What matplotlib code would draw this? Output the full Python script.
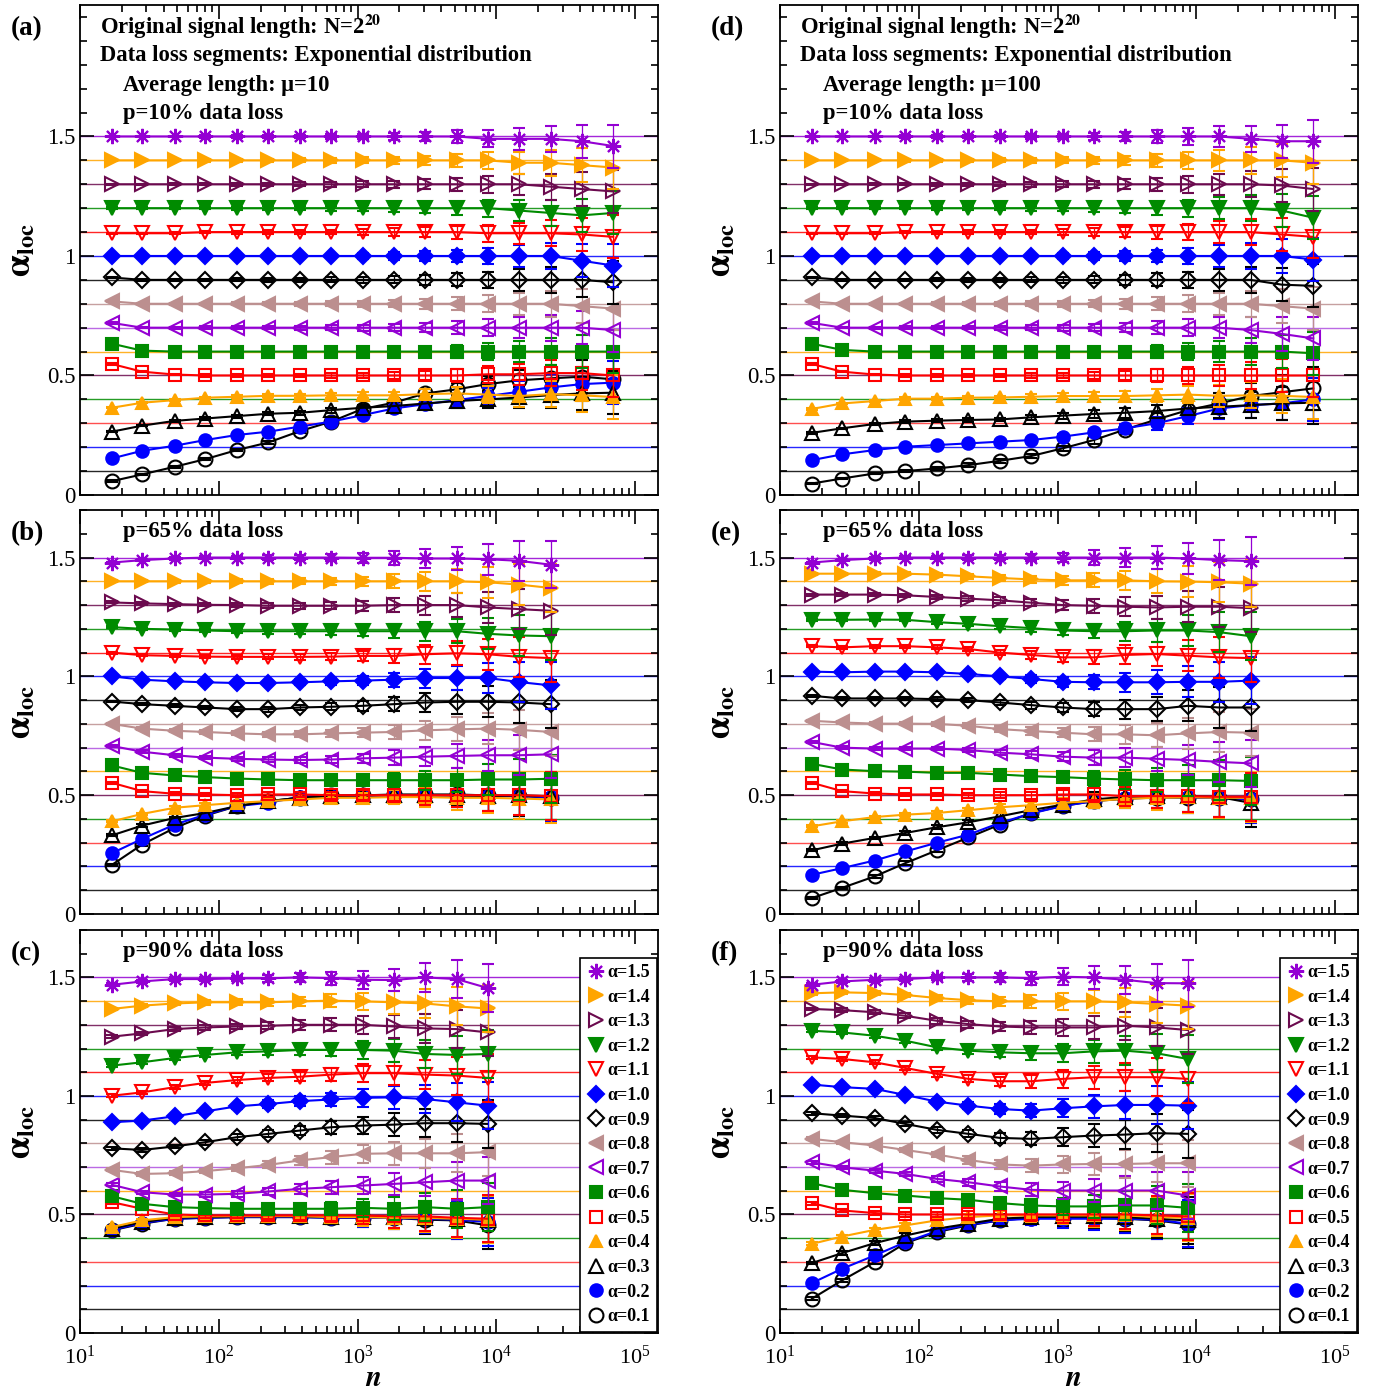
import numpy as np
import matplotlib
matplotlib.use("Agg")
import matplotlib.pyplot as plt
from matplotlib.lines import Line2D
from matplotlib.ticker import LogLocator, MultipleLocator, FixedLocator, FuncFormatter, NullFormatter

plt.rcParams['font.family'] = ['Liberation Serif', 'DejaVu Serif']
plt.rcParams['mathtext.fontset'] = 'stix'

# scale n of the plotted points (same for every panel, cut to the panel length)
n_all = [17, 28, 48, 80, 135, 228, 383, 645, 1085, 1825, 3070, 5160, 8680,
         14600, 24550, 41300, 69450]

alphas = [1.5, 1.4, 1.3, 1.2, 1.1, 1.0, 0.9, 0.8, 0.7, 0.6, 0.5, 0.4, 0.3, 0.2, 0.1]

# error bar half-widths per point
err_top = [0.003, 0.003, 0.004, 0.005, 0.006, 0.007, 0.008, 0.01, 0.012, 0.015,
           0.02, 0.027, 0.035, 0.045, 0.055, 0.07, 0.09]
err_mid = [0.004, 0.005, 0.006, 0.007, 0.008, 0.01, 0.012, 0.015, 0.02, 0.03,
           0.04, 0.05, 0.065, 0.085, 0.1]
err_bot = [0.006, 0.007, 0.008, 0.01, 0.012, 0.015, 0.02, 0.027, 0.037, 0.048,
           0.06, 0.08, 0.1]

# (a) mu=10, p=10%
vals_a = [
    [1.50, 1.50, 1.50, 1.50, 1.50, 1.50, 1.50, 1.50, 1.50, 1.50, 1.50, 1.50, 1.49, 1.49, 1.49, 1.48, 1.46],
    [1.40, 1.40, 1.40, 1.40, 1.40, 1.40, 1.40, 1.40, 1.40, 1.40, 1.40, 1.40, 1.40, 1.39, 1.39, 1.38, 1.37],
    [1.30, 1.30, 1.30, 1.30, 1.30, 1.30, 1.30, 1.30, 1.30, 1.30, 1.30, 1.30, 1.30, 1.30, 1.29, 1.28, 1.27],
    [1.20, 1.20, 1.20, 1.20, 1.20, 1.20, 1.20, 1.20, 1.20, 1.20, 1.20, 1.20, 1.20, 1.19, 1.18, 1.17, 1.18],
    [1.095, 1.095, 1.095, 1.10, 1.10, 1.10, 1.10, 1.10, 1.10, 1.10, 1.10, 1.10, 1.095, 1.095, 1.095, 1.09, 1.08],
    [1.00, 1.00, 1.00, 1.00, 1.00, 1.00, 1.00, 1.00, 1.00, 1.00, 1.00, 1.00, 1.00, 1.00, 1.00, 0.98, 0.96],
    [0.91, 0.90, 0.90, 0.90, 0.90, 0.90, 0.90, 0.90, 0.90, 0.90, 0.90, 0.90, 0.90, 0.90, 0.90, 0.90, 0.89],
    [0.81, 0.80, 0.80, 0.80, 0.80, 0.80, 0.80, 0.80, 0.80, 0.80, 0.80, 0.80, 0.80, 0.80, 0.80, 0.79, 0.78],
    [0.72, 0.70, 0.70, 0.70, 0.70, 0.70, 0.70, 0.70, 0.70, 0.70, 0.70, 0.70, 0.70, 0.70, 0.70, 0.70, 0.69],
    [0.633, 0.604, 0.60, 0.60, 0.60, 0.60, 0.60, 0.60, 0.60, 0.60, 0.60, 0.60, 0.60, 0.60, 0.60, 0.60, 0.60],
    [0.548, 0.516, 0.504, 0.50, 0.50, 0.50, 0.50, 0.50, 0.50, 0.50, 0.50, 0.50, 0.505, 0.505, 0.51, 0.51, 0.50],
    [0.365, 0.386, 0.397, 0.407, 0.411, 0.415, 0.415, 0.417, 0.417, 0.417, 0.422, 0.425, 0.42, 0.414, 0.422, 0.417, 0.41],
    [0.265, 0.29, 0.31, 0.32, 0.33, 0.34, 0.344, 0.355, 0.365, 0.372, 0.383, 0.393, 0.40, 0.408, 0.418, 0.425, 0.428],
    [0.153, 0.185, 0.206, 0.23, 0.251, 0.265, 0.286, 0.307, 0.334, 0.362, 0.38, 0.397, 0.414, 0.432, 0.45, 0.464, 0.47],
    [0.058, 0.086, 0.118, 0.15, 0.188, 0.22, 0.267, 0.307, 0.36, 0.386, 0.425, 0.442, 0.464, 0.48, 0.488, 0.495, 0.484],
]

# (d) mu=100, p=10%
vals_d = [
    [1.50, 1.50, 1.50, 1.50, 1.50, 1.50, 1.50, 1.50, 1.50, 1.50, 1.50, 1.50, 1.50, 1.50, 1.49, 1.48, 1.48],
    [1.40, 1.40, 1.40, 1.40, 1.40, 1.40, 1.40, 1.40, 1.40, 1.40, 1.40, 1.40, 1.40, 1.40, 1.40, 1.40, 1.39],
    [1.30, 1.30, 1.30, 1.30, 1.30, 1.30, 1.30, 1.30, 1.30, 1.30, 1.30, 1.30, 1.30, 1.30, 1.30, 1.295, 1.28],
    [1.20, 1.20, 1.20, 1.20, 1.20, 1.20, 1.20, 1.20, 1.20, 1.20, 1.20, 1.20, 1.20, 1.20, 1.20, 1.19, 1.16],
    [1.095, 1.095, 1.095, 1.10, 1.10, 1.10, 1.10, 1.10, 1.10, 1.10, 1.10, 1.10, 1.10, 1.10, 1.10, 1.09, 1.08],
    [1.00, 1.00, 1.00, 1.00, 1.00, 1.00, 1.00, 1.00, 1.00, 1.00, 1.00, 1.00, 1.00, 1.00, 1.00, 1.00, 0.985],
    [0.91, 0.90, 0.90, 0.90, 0.90, 0.90, 0.90, 0.90, 0.90, 0.90, 0.90, 0.90, 0.90, 0.90, 0.90, 0.88, 0.875],
    [0.81, 0.80, 0.80, 0.80, 0.80, 0.80, 0.80, 0.80, 0.80, 0.80, 0.80, 0.80, 0.80, 0.80, 0.80, 0.79, 0.78],
    [0.72, 0.70, 0.70, 0.70, 0.70, 0.70, 0.70, 0.70, 0.70, 0.70, 0.70, 0.70, 0.70, 0.70, 0.69, 0.674, 0.655],
    [0.633, 0.607, 0.60, 0.60, 0.60, 0.60, 0.60, 0.60, 0.60, 0.60, 0.60, 0.60, 0.60, 0.60, 0.60, 0.60, 0.593],
    [0.548, 0.516, 0.504, 0.50, 0.50, 0.50, 0.50, 0.50, 0.50, 0.50, 0.50, 0.50, 0.50, 0.50, 0.50, 0.50, 0.50],
    [0.36, 0.383, 0.393, 0.403, 0.403, 0.407, 0.408, 0.411, 0.414, 0.414, 0.414, 0.417, 0.42, 0.415, 0.417, 0.415, 0.41],
    [0.26, 0.279, 0.297, 0.307, 0.311, 0.314, 0.316, 0.325, 0.332, 0.339, 0.344, 0.351, 0.362, 0.369, 0.376, 0.383, 0.386],
    [0.146, 0.17, 0.188, 0.202, 0.209, 0.216, 0.223, 0.23, 0.244, 0.262, 0.279, 0.30, 0.33, 0.362, 0.376, 0.383, 0.40],
    [0.048, 0.069, 0.09, 0.10, 0.111, 0.125, 0.143, 0.163, 0.195, 0.23, 0.274, 0.316, 0.355, 0.383, 0.414, 0.43, 0.446],
]

# (b) mu=10, p=65%
vals_b = [
    [1.479, 1.489, 1.496, 1.50, 1.50, 1.50, 1.50, 1.50, 1.499, 1.499, 1.496, 1.496, 1.493, 1.486, 1.47],
    [1.40, 1.40, 1.40, 1.40, 1.40, 1.40, 1.40, 1.40, 1.40, 1.40, 1.40, 1.40, 1.396, 1.386, 1.372],
    [1.311, 1.307, 1.304, 1.301, 1.30, 1.297, 1.297, 1.297, 1.297, 1.30, 1.30, 1.30, 1.29, 1.283, 1.276],
    [1.207, 1.20, 1.197, 1.193, 1.19, 1.19, 1.19, 1.19, 1.19, 1.19, 1.19, 1.19, 1.179, 1.172, 1.169],
    [1.10, 1.089, 1.086, 1.083, 1.082, 1.082, 1.082, 1.083, 1.086, 1.086, 1.093, 1.097, 1.093, 1.082, 1.077],
    [1.00, 0.986, 0.979, 0.975, 0.972, 0.972, 0.975, 0.979, 0.982, 0.986, 0.993, 0.993, 0.993, 0.976, 0.962],
    [0.894, 0.883, 0.876, 0.869, 0.862, 0.862, 0.869, 0.872, 0.876, 0.883, 0.89, 0.893, 0.893, 0.89, 0.883],
    [0.80, 0.78, 0.771, 0.766, 0.76, 0.756, 0.756, 0.76, 0.763, 0.766, 0.773, 0.777, 0.78, 0.775, 0.766],
    [0.707, 0.683, 0.668, 0.658, 0.653, 0.65, 0.648, 0.65, 0.655, 0.658, 0.662, 0.665, 0.668, 0.668, 0.672],
    [0.625, 0.594, 0.583, 0.576, 0.57, 0.566, 0.563, 0.563, 0.563, 0.563, 0.563, 0.563, 0.566, 0.566, 0.569],
    [0.552, 0.517, 0.506, 0.503, 0.50, 0.503, 0.503, 0.50, 0.50, 0.50, 0.50, 0.50, 0.50, 0.50, 0.496],
    [0.39, 0.421, 0.447, 0.458, 0.468, 0.475, 0.482, 0.489, 0.489, 0.492, 0.492, 0.489, 0.489, 0.486, 0.482],
    [0.331, 0.372, 0.404, 0.425, 0.454, 0.475, 0.489, 0.496, 0.499, 0.50, 0.50, 0.499, 0.496, 0.499, 0.496],
    [0.256, 0.316, 0.376, 0.418, 0.454, 0.468, 0.493, 0.496, 0.496, 0.499, 0.499, 0.499, 0.496, 0.496, 0.492],
    [0.207, 0.292, 0.362, 0.414, 0.454, 0.475, 0.489, 0.499, 0.499, 0.503, 0.503, 0.503, 0.499, 0.496, 0.489],
]

# (e) mu=100, p=65%
vals_e = [
    [1.479, 1.489, 1.496, 1.50, 1.50, 1.50, 1.50, 1.50, 1.50, 1.50, 1.50, 1.50, 1.496, 1.489, 1.485],
    [1.432, 1.432, 1.432, 1.432, 1.428, 1.421, 1.414, 1.408, 1.404, 1.404, 1.404, 1.40, 1.399, 1.396, 1.39],
    [1.344, 1.344, 1.344, 1.341, 1.334, 1.327, 1.32, 1.31, 1.30, 1.297, 1.293, 1.29, 1.293, 1.293, 1.287],
    [1.238, 1.238, 1.239, 1.238, 1.228, 1.221, 1.211, 1.203, 1.193, 1.19, 1.19, 1.193, 1.193, 1.186, 1.169],
    [1.127, 1.122, 1.127, 1.127, 1.122, 1.115, 1.10, 1.09, 1.08, 1.08, 1.09, 1.094, 1.087, 1.08, 1.077],
    [1.02, 1.017, 1.02, 1.02, 1.017, 1.01, 1.00, 0.989, 0.977, 0.975, 0.975, 0.975, 0.977, 0.977, 0.982],
    [0.918, 0.907, 0.907, 0.907, 0.904, 0.90, 0.89, 0.879, 0.869, 0.862, 0.862, 0.862, 0.876, 0.869, 0.869],
    [0.813, 0.806, 0.801, 0.801, 0.80, 0.792, 0.778, 0.77, 0.763, 0.756, 0.756, 0.752, 0.76, 0.766, 0.763],
    [0.724, 0.70, 0.696, 0.696, 0.696, 0.69, 0.679, 0.672, 0.662, 0.658, 0.658, 0.653, 0.648, 0.64, 0.634],
    [0.632, 0.608, 0.601, 0.599, 0.594, 0.594, 0.587, 0.58, 0.576, 0.57, 0.566, 0.563, 0.563, 0.563, 0.56],
    [0.552, 0.517, 0.507, 0.503, 0.503, 0.50, 0.50, 0.50, 0.503, 0.503, 0.496, 0.496, 0.496, 0.493, 0.493],
    [0.369, 0.39, 0.408, 0.418, 0.425, 0.437, 0.449, 0.458, 0.468, 0.475, 0.485, 0.489, 0.492, 0.489, 0.489],
    [0.268, 0.296, 0.32, 0.341, 0.365, 0.386, 0.411, 0.437, 0.46, 0.482, 0.493, 0.496, 0.496, 0.492, 0.468],
    [0.165, 0.193, 0.225, 0.263, 0.30, 0.334, 0.383, 0.423, 0.454, 0.475, 0.489, 0.496, 0.492, 0.489, 0.482],
    [0.067, 0.11, 0.158, 0.214, 0.268, 0.322, 0.376, 0.425, 0.455, 0.475, 0.485, 0.49, 0.49, 0.49, 0.485],
]

# (c) mu=10, p=90%
vals_c = [
    [1.469, 1.483, 1.493, 1.493, 1.496, 1.496, 1.50, 1.497, 1.49, 1.489, 1.50, 1.493, 1.455],
    [1.367, 1.381, 1.39, 1.395, 1.395, 1.395, 1.399, 1.402, 1.399, 1.395, 1.39, 1.378, 1.369],
    [1.25, 1.264, 1.282, 1.289, 1.293, 1.296, 1.30, 1.30, 1.30, 1.293, 1.285, 1.282, 1.268],
    [1.128, 1.142, 1.16, 1.173, 1.184, 1.188, 1.194, 1.194, 1.194, 1.191, 1.177, 1.173, 1.177],
    [1.001, 1.015, 1.037, 1.055, 1.067, 1.076, 1.081, 1.09, 1.096, 1.096, 1.09, 1.086, 1.076],
    [0.889, 0.896, 0.914, 0.935, 0.956, 0.966, 0.978, 0.985, 0.992, 0.994, 0.987, 0.973, 0.959],
    [0.779, 0.772, 0.787, 0.805, 0.826, 0.84, 0.854, 0.868, 0.875, 0.879, 0.885, 0.885, 0.882],
    [0.688, 0.671, 0.674, 0.683, 0.695, 0.709, 0.728, 0.742, 0.756, 0.758, 0.758, 0.758, 0.763],
    [0.625, 0.594, 0.584, 0.584, 0.587, 0.597, 0.608, 0.615, 0.622, 0.629, 0.636, 0.643, 0.643],
    [0.577, 0.545, 0.531, 0.527, 0.524, 0.524, 0.524, 0.524, 0.528, 0.524, 0.531, 0.524, 0.531],
    [0.552, 0.524, 0.50, 0.496, 0.496, 0.496, 0.496, 0.496, 0.496, 0.492, 0.492, 0.486, 0.482],
    [0.447, 0.475, 0.489, 0.492, 0.493, 0.493, 0.493, 0.489, 0.489, 0.486, 0.486, 0.482, 0.478],
    [0.44, 0.468, 0.486, 0.489, 0.492, 0.492, 0.492, 0.489, 0.489, 0.489, 0.486, 0.482, 0.478],
    [0.435, 0.464, 0.482, 0.486, 0.489, 0.489, 0.489, 0.486, 0.486, 0.485, 0.482, 0.478, 0.468],
    [0.433, 0.461, 0.482, 0.486, 0.489, 0.489, 0.489, 0.486, 0.486, 0.485, 0.478, 0.475, 0.454],
]

# (f) mu=100, p=90%
vals_f = [
    [1.469, 1.483, 1.49, 1.493, 1.50, 1.50, 1.50, 1.497, 1.503, 1.50, 1.49, 1.476, 1.475],
    [1.433, 1.437, 1.434, 1.426, 1.413, 1.404, 1.399, 1.399, 1.399, 1.399, 1.395, 1.388, 1.381],
    [1.367, 1.362, 1.353, 1.338, 1.317, 1.303, 1.293, 1.289, 1.289, 1.289, 1.296, 1.289, 1.278],
    [1.275, 1.268, 1.254, 1.233, 1.205, 1.191, 1.184, 1.18, 1.18, 1.188, 1.191, 1.18, 1.156],
    [1.163, 1.156, 1.142, 1.118, 1.093, 1.072, 1.062, 1.062, 1.072, 1.079, 1.079, 1.079, 1.072],
    [1.048, 1.037, 1.03, 1.004, 0.976, 0.959, 0.945, 0.938, 0.948, 0.956, 0.962, 0.962, 0.959],
    [0.927, 0.917, 0.907, 0.882, 0.857, 0.84, 0.823, 0.819, 0.826, 0.833, 0.837, 0.843, 0.84],
    [0.819, 0.805, 0.791, 0.772, 0.753, 0.73, 0.711, 0.706, 0.711, 0.713, 0.713, 0.716, 0.716],
    [0.72, 0.699, 0.685, 0.671, 0.65, 0.636, 0.618, 0.604, 0.601, 0.601, 0.601, 0.601, 0.58],
    [0.632, 0.604, 0.59, 0.58, 0.569, 0.562, 0.548, 0.538, 0.534, 0.534, 0.538, 0.538, 0.528],
    [0.548, 0.517, 0.506, 0.50, 0.50, 0.50, 0.50, 0.50, 0.50, 0.50, 0.50, 0.496, 0.492],
    [0.376, 0.407, 0.435, 0.454, 0.475, 0.489, 0.496, 0.496, 0.496, 0.496, 0.496, 0.489, 0.486],
    [0.295, 0.337, 0.379, 0.411, 0.44, 0.461, 0.482, 0.489, 0.492, 0.492, 0.489, 0.482, 0.475],
    [0.211, 0.271, 0.327, 0.383, 0.43, 0.457, 0.475, 0.482, 0.482, 0.482, 0.482, 0.478, 0.461],
    [0.145, 0.222, 0.299, 0.379, 0.426, 0.454, 0.475, 0.486, 0.486, 0.486, 0.482, 0.475, 0.458],
]

# marker styles for each alpha (marker, colour, filled)
VIOLET = "#9400d3"
ORANGE = "#ffa500"
MAROON = "#6b0a4e"
GREEN = "#008b00"
RED = "#ff0000"
BLUE = "#0000ff"
BLACK = "#000000"
ROSY = "#bc8f8f"
styles = [
    ((8, 2, 0), VIOLET, True),
    (">", ORANGE, True),
    (">", MAROON, False),
    ("v", GREEN, True),
    ("v", RED, False),
    ("D", BLUE, True),
    ("D", BLACK, False),
    ("<", ROSY, True),
    ("<", VIOLET, False),
    ("s", GREEN, True),
    ("s", RED, False),
    ("^", ORANGE, True),
    ("^", BLACK, False),
    ("o", BLUE, True),
    ("o", BLACK, False),
]
# colours of the horizontal reference lines at each alpha
ref_colors = [VIOLET, ORANGE, MAROON, GREEN, RED, BLUE, BLACK, ROSY,
              "#b050e0", ORANGE, MAROON, GREEN, "#ff3030", BLUE, BLACK]
msizes = [11, 10, 10, 10, 10, 8, 8, 10, 10, 8, 9, 9, 10, 9, 10]

fig = plt.figure(figsize=(13.8, 13.93), dpi=100)

W, H = 1380.0, 1393.0
cols = [80, 780]
rows = [(5, 495), (510, 914), (930, 1333)]


def make_ax(col, row):
    x0 = cols[col]
    y0, y1 = rows[row]
    return fig.add_axes([x0 / W, 1 - y1 / H, 578 / W, (y1 - y0) / H])


panels = [
    (0, 0, vals_a, err_top, 2.05, "(a)", "p=10% data loss", "μ=10"),
    (0, 1, vals_b, err_mid, 1.70, "(b)", "p=65% data loss", None),
    (0, 2, vals_c, err_bot, 1.70, "(c)", "p=90% data loss", None),
    (1, 0, vals_d, err_top, 2.05, "(d)", "p=10% data loss", "μ=100"),
    (1, 1, vals_e, err_mid, 1.70, "(e)", "p=65% data loss", None),
    (1, 2, vals_f, err_bot, 1.70, "(f)", "p=90% data loss", None),
]

TXT = 16.3

for col, row, vals, err, ytop, tag, ptext, mu in panels:
    ax = make_ax(col, row)
    npts = len(err)
    n = n_all[:npts]
    for a, rc in zip(alphas, ref_colors):
        ax.axhline(a, color=rc, lw=1.0, alpha=0.85, zorder=1)
    for i in range(len(alphas) - 1, -1, -1):
        mk, c, filled = styles[i]
        ax.errorbar(n, vals[i], yerr=err, fmt="-", color=c, lw=1.5,
                    marker=mk, ms=msizes[i], mfc=(c if filled else "none"),
                    mec=c, mew=1.5, elinewidth=0.9, capsize=4, capthick=0.9,
                    ecolor=c, zorder=3 + (15 - i) * 0.1)
    ax.set_xscale("log")
    ax.set_xlim(10, 1.46e5)
    ax.set_ylim(0, ytop)
    ax.xaxis.set_major_locator(LogLocator(base=10, numticks=10))
    ax.xaxis.set_minor_locator(LogLocator(base=10, subs=np.arange(2, 10), numticks=20))
    ax.xaxis.set_minor_formatter(NullFormatter())
    ax.yaxis.set_major_locator(FixedLocator([0, 0.5, 1.0, 1.5]))
    ax.yaxis.set_minor_locator(MultipleLocator(0.1))
    ax.yaxis.set_major_formatter(FuncFormatter(lambda v, p: "%g" % v))
    ax.tick_params(which="both", direction="in", top=True, right=True,
                   labelsize=16.5, width=1.2)
    ax.tick_params(which="major", length=10)
    ax.tick_params(which="minor", length=5)
    ax.tick_params(axis="x", which="major", pad=9, labelsize=16)
    for s in ax.spines.values():
        s.set_linewidth(1.3)
    if row < 2:
        ax.set_xticklabels([])
    else:
        fig.text((cols[col] + 293) / W, 1 - 1392 / H, "$\\boldsymbol{n}$",
                 fontsize=21, ha="center", va="bottom")
    ax.set_ylabel("$\\mathbf{\\alpha}_{\\mathbf{loc}}$", fontsize=25, labelpad=6)

    fig.text((cols[col] - 69) / W, 1 - (rows[row][0] + 24) / H, tag,
             fontsize=19.5, fontweight="bold", va="center", ha="left")

    hpx = rows[row][1] - rows[row][0]
    if mu is not None:
        ax.text(20 / 578, 1 - 22 / hpx, "Original signal length: N=2$^{\\mathbf{20}}$",
                transform=ax.transAxes, fontsize=TXT, fontweight="bold", va="center")
        ax.text(20 / 578, 1 - 51 / hpx, "Data loss segments: Exponential distribution",
                transform=ax.transAxes, fontsize=TXT, fontweight="bold", va="center")
        ax.text(43 / 578, 1 - 80 / hpx, "Average length: " + mu,
                transform=ax.transAxes, fontsize=TXT, fontweight="bold", va="center")
        ax.text(43 / 578, 1 - 108 / hpx, ptext,
                transform=ax.transAxes, fontsize=TXT, fontweight="bold", va="center")
    else:
        ax.text(43 / 578, 1 - 22 / hpx, ptext,
                transform=ax.transAxes, fontsize=TXT, fontweight="bold", va="center")

    if row == 2:
        handles = []
        for i, a in enumerate(alphas):
            mk, c, filled = styles[i]
            handles.append(Line2D([], [], ls="none", marker=mk, color=c,
                                  ms=msizes[i], mfc=(c if filled else "none"),
                                  mec=c, mew=1.5))
        labels = ["α=%.1f" % a for a in alphas]
        leg = ax.legend(handles, labels, loc="lower right",
                        frameon=True, fancybox=False, framealpha=1,
                        edgecolor="black", borderaxespad=0.08,
                        labelspacing=0.42, handletextpad=0.1,
                        handlelength=1.1, borderpad=0.35,
                        prop={"weight": "bold", "size": 13})
        leg.get_frame().set_linewidth(1.2)

fig.savefig("out.png", dpi=100)
